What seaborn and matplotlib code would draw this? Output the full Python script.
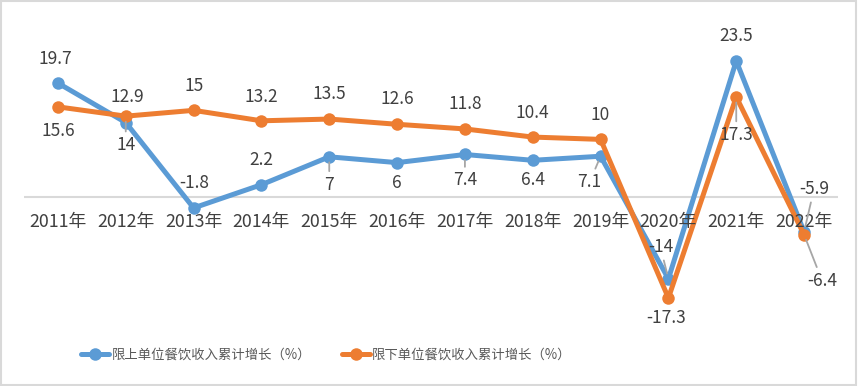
import pandas as pd
import matplotlib
matplotlib.use("Agg")
import matplotlib.pyplot as plt
from matplotlib.patches import Rectangle
import seaborn as sns

# data
years = ["2011年", "2012年", "2013年", "2014年", "2015年", "2016年",
         "2017年", "2018年", "2019年", "2020年", "2021年", "2022年"]
above_name = "限上单位餐饮收入累计增长（%）"
below_name = "限下单位餐饮收入累计增长（%）"
above_vals = [19.7, 12.9, -1.8, 2.2, 7, 6, 7.4, 6.4, 7.1, -14, 23.5, -5.9]
below_vals = [15.6, 14, 15, 13.2, 13.5, 12.6, 11.8, 10.4, 10, -17.3, 17.3, -6.4]

# label placement (offset in pixels from each point) and which get leader lines
above_offsets = [(-3, 24), (2, 26), (1, 25), (0, 25), (0, -28), (0, -20),
                 (0, -26), (0, -20), (-11, -26), (-8, 32), (0, 25), (10, 43)]
below_offsets = [(0, -24), (0, -29), (1, 24), (0, 24), (0, 25), (0, 25),
                 (0, 25), (0, 24), (0, 24), (-2, -20), (0, -38), (18, -46)]
above_leaders = {4, 6, 8, 9, 11}
below_leaders = {1, 10, 11}

BLUE = "#5B9BD5"
ORANGE = "#ED7D31"
TEXT = "#404040"
GRID = "#D9D9D9"

sns.set_theme(style="white")
plt.rcParams["font.family"] = ["Noto Sans CJK SC", "DejaVu Sans"]

df = pd.DataFrame({
    "x": list(range(len(years))) * 2,
    "value": above_vals + below_vals,
    "series": [above_name] * len(years) + [below_name] * len(years),
})

fig = plt.figure(figsize=(8.58, 3.86), dpi=100)
ax = fig.add_axes([24 / 858, 1 - 325.3 / 386, 814 / 858, (325.3 - 23.2) / 386])

ax.axhline(0, color=GRID, lw=1.5, zorder=0)

sns.lineplot(data=df, x="x", y="value", hue="series",
             palette={above_name: BLUE, below_name: ORANGE},
             marker="o", markersize=9, markeredgewidth=0,
             linewidth=3.6, ax=ax, legend=True)

ax.set_xlim(-0.5, len(years) - 0.5)
ax.set_ylim(-22, 30)
ax.set_xticks([])
ax.set_yticks([])
ax.set_xlabel("")
ax.set_ylabel("")
for s in ax.spines.values():
    s.set_visible(False)

# category labels sit just under the zero line
for i, yr in enumerate(years):
    ax.annotate(yr, xy=(i, 0), xytext=(0, -25), textcoords="offset pixels",
                ha="center", va="center", fontsize=12.8, color=TEXT)


def put_labels(vals, offsets, leaders):
    for i, (v, off) in enumerate(zip(vals, offsets)):
        arrow = None
        if i in leaders:
            arrow = dict(arrowstyle="-", color="#A6A6A6", lw=1.3,
                         shrinkA=1, shrinkB=4)
        ax.annotate(f"{v:g}", xy=(i, v), xytext=off, textcoords="offset pixels",
                    ha="center", va="center", fontsize=12.5, color=TEXT,
                    arrowprops=arrow, zorder=5)


put_labels(above_vals, above_offsets, above_leaders)
put_labels(below_vals, below_offsets, below_leaders)

handles, labels = ax.get_legend_handles_labels()
ax.get_legend().remove()
fig.legend(handles, labels, loc="center left", bbox_to_anchor=(74 / 858, 1 - 355 / 386),
           ncol=2, frameon=False, fontsize=9.6, handlelength=2.1, borderpad=0,
           handletextpad=0.2, columnspacing=2.3, labelcolor="#595959")

fig.patches.append(Rectangle((0.001, 0.002), 0.997, 0.995, transform=fig.transFigure,
                             fill=False, edgecolor=GRID, lw=1.5))

fig.savefig("out.png", dpi=100)
